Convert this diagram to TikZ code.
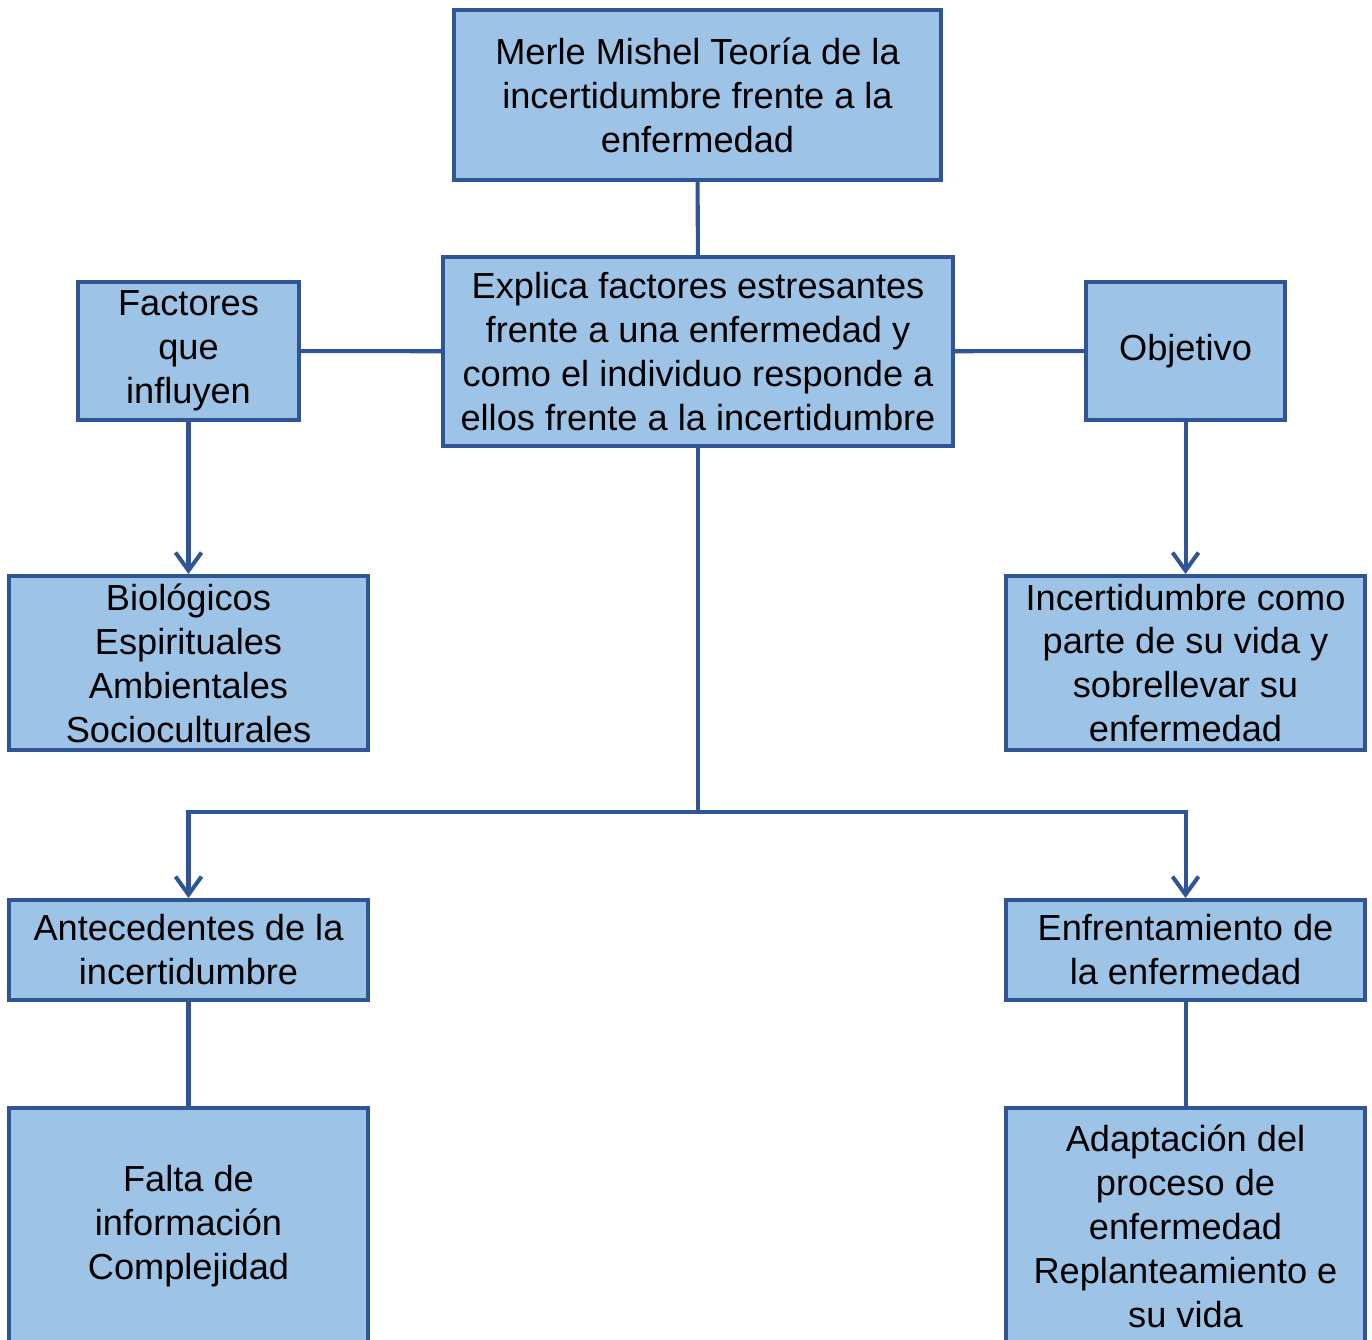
\documentclass[tikz,border=0pt]{standalone}
\usepackage{fontspec}
\setmainfont{Liberation Sans}
\usetikzlibrary{arrows.meta}
\definecolor{boxFill}{RGB}{157,195,230}
\definecolor{boxLine}{RGB}{47,85,151}

\tikzset{
  conceptbox/.style={rectangle, draw=boxLine, fill=boxFill, line width=1.15pt, align=center,
    inner sep=1pt, font=\fontsize{10.3}{12.5}\selectfont},
  link/.style={draw=boxLine, line width=1.15pt},
  arrowlink/.style={link, -{Straight Barb[length=1.8mm,width=2.6mm,line width=1.15pt]}}
}

\begin{document}
\begin{tikzpicture}
    \useasboundingbox (0,0) rectangle (13.72,-13.39);
    \begin{scope}
    \clip (0,0) rectangle (13.72,-13.39);
    % Theory and central idea
    \node[conceptbox, minimum width=4.87cm, minimum height=1.7cm] (theory) at (6.975,-0.95) {Merle Mishel Teoría de la\\incertidumbre frente a la\\enfermedad};
    \node[conceptbox, minimum width=5.1cm, minimum height=1.89cm] (explain) at (6.98,-3.515) {Explica factores estresantes\\frente a una enfermedad y\\como el individuo responde a\\ellos frente a la incertidumbre};
    \node[conceptbox, minimum width=2.21cm, minimum height=1.38cm] (factors) at (1.885,-3.51) {Factores\\que\\influyen};
    \node[conceptbox, minimum width=1.99cm, minimum height=1.38cm] (goal) at (11.855,-3.51) {Objetivo};

    % Second level
    \node[conceptbox, minimum width=3.59cm, minimum height=1.74cm] (kinds) at (1.885,-6.63) {Biológicos\\Espirituales\\Ambientales\\Socioculturales};
    \node[conceptbox, minimum width=3.59cm, minimum height=1.74cm] (living) at (11.855,-6.63) {Incertidumbre como\\parte de su vida y\\sobrellevar su\\enfermedad};
    \node[conceptbox, minimum width=3.59cm, minimum height=1.0cm] (causes) at (1.885,-9.5) {Antecedentes de la\\incertidumbre};
    \node[conceptbox, minimum width=3.59cm, minimum height=1.0cm] (coping) at (11.855,-9.5) {Enfrentamiento de\\la enfermedad};
    \node[conceptbox, minimum width=3.59cm, minimum height=2.36cm] (lack) at (1.885,-12.26) {Falta de\\información\\Complejidad};
    \node[conceptbox, minimum width=3.59cm, minimum height=2.36cm] (adapt) at (11.855,-12.26) {Adaptación del\\proceso de\\enfermedad\\Replanteamiento e\\su vida};

    \coordinate (split) at (6.98,-8.12);

    \draw[link] (theory) -- (explain);
    \draw[link] (factors) -- (explain);
    \draw[link] (explain) -- (goal);
    \draw[arrowlink] (factors) -- (kinds);
    \draw[arrowlink] (goal) -- (living);
    \draw[link] (explain) -- (split);
    \draw[arrowlink] (split) -| (causes);
    \draw[arrowlink] (split) -| (coping);
    \draw[link] (causes) -- (lack);
    \draw[link] (coping) -- (adapt);
    \end{scope}
\end{tikzpicture}
\end{document}
